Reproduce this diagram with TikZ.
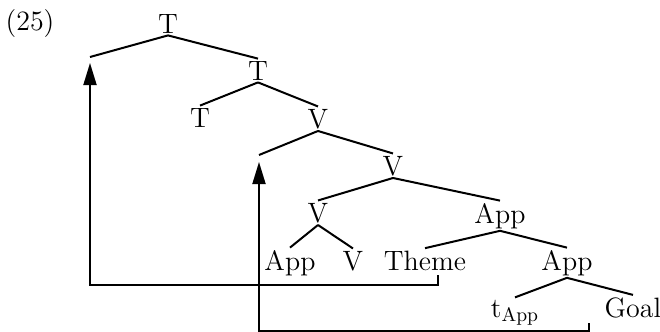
\documentclass[tikz,border=0pt]{standalone}
\usepackage{tikz}
\usetikzlibrary{calc, arrows.meta}

\tikzset{
  cat/.style = {anchor=base, inner sep=1pt, font=\fontsize{14}{16}\selectfont},
  branch/.style = {line width=1pt},
  move/.style = {line width=0.9pt, -{Triangle[length=11pt,width=6.5pt]}}
}

\begin{document}
\begin{tikzpicture}[x=0.5pt, y=-0.5pt]
					\useasboundingbox (0,0) rectangle (660,332);

					\node [cat] (num) at (30,31) {(25)};

					% tree, baselines read off the rows
					\node [cat] (Ttop)  at (168,33)  {T};
					\node [cat] (Tbar)  at (258,80)  {T};
					\node [cat] (Thead) at (200,127) {T};
					\node [cat] (Vtop)  at (318,128) {V};
					\node [cat] (Vbar)  at (393,175) {V};
					\node [cat] (Vhead) at (318,222) {V};
					\node [cat] (Apptop) at (500,223) {App};
					\node [cat] (AppV)  at (290,270) {App};
					\node [cat] (Vlow)  at (353,270) {V};
					\node [cat] (Theme) at (425,270) {Theme};
					\node [cat] (Appbar) at (567,270) {App};
					\node [cat] (trace) at (515,317) {t\textsubscript{App}};
					\node [cat] (Goal)  at (633,317) {Goal};

					% empty landing sites
					\coordinate (landT) at (90,57);
					\coordinate (landV) at (259,155);

					\begin{scope}[branch]
						\draw (Ttop.south) -- (landT);
						\draw (Ttop.south) -- (Tbar.north);
						\draw (Tbar.south) -- (Thead.north);
						\draw (Tbar.south) -- (Vtop.north);
						\draw (Vtop.south) -- (landV);
						\draw (Vtop.south) -- (Vbar.north);
						\draw (Vbar.south) -- (Vhead.north);
						\draw (Vbar.south) -- (Apptop.north);
						\draw (Vhead.south) -- (AppV.north);
						\draw (Vhead.south) -- (Vlow.north);
						\draw (Apptop.south) -- (Theme.north);
						\draw (Apptop.south) -- (Appbar.north);
						\draw (Appbar.south) -- (trace.north);
						\draw (Appbar.south) -- (Goal.north);
					\end{scope}

					% movement arrows
					\coordinate (dropTheme) at (438,275);
					\coordinate (tipT) at (90,63);
					\coordinate (dropApp) at (589,323);
					\coordinate (tipV) at (259,162);

					\draw [move] (dropTheme) |- (tipT |- 0,285) -- (tipT);
					\draw [move] (dropApp) |- (tipV |- 0,331) -- (tipV);
				\end{tikzpicture}
\end{document}
